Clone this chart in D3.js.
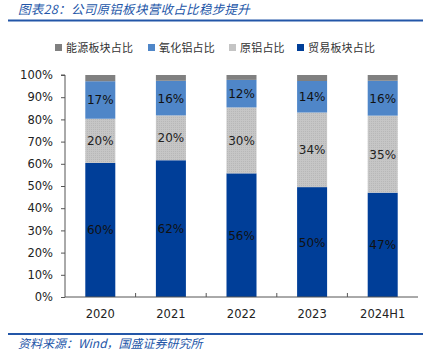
<!DOCTYPE html>
<html>
<head>
<meta charset="utf-8">
<script src="https://cdn.jsdelivr.net/npm/d3@7"></script>
<style>
  body { margin: 0; background: #fff; }
  svg { display: block; }
</style>
</head>
<body>
<div id="chart"></div>
<script>
// categories and shares (%)
const years = ["2020", "2021", "2022", "2023", "2024H1"];
const trade = [60.4, 61.6, 55.7, 49.5, 47.0];     // 贸易板块占比
const primaryAl = [19.9, 20.2, 29.7, 33.6, 34.7]; // 原铝占比
const alumina = [16.9, 15.6, 12.4, 14.2, 15.7];   // 氧化铝占比
const energy = [2.8, 2.6, 2.2, 2.7, 2.6];         // 能源板块占比
const yTicks = [0, 10, 20, 30, 40, 50, 60, 70, 80, 90, 100];

const W = 430, H = 353;
const margin = { top: 75, right: 12, bottom: 56, left: 65 };
const w = W - margin.left - margin.right;
const h = H - margin.top - margin.bottom;

const svg = d3.select("#chart").append("svg")
  .attr("width", W).attr("height", H)
  .style("font-family", "'DejaVu Sans', sans-serif");

// dotted texture for primary aluminium
const defs = svg.append("defs");
const pat = defs.append("pattern").attr("id", "dots")
  .attr("width", 2).attr("height", 2).attr("patternUnits", "userSpaceOnUse");
pat.append("rect").attr("width", 2).attr("height", 2).attr("fill", "#c6c6c6");
pat.append("rect").attr("width", 1).attr("height", 1).attr("fill", "#b8b8b8");

/* Title + rules */
const blue = "#2356a8";
svg.append("text").attr("x", 18).attr("y", 14)
  .style("font-family", "'Noto Sans CJK SC', sans-serif")
  .style("font-size", "12.5px").style("font-style", "italic").style("fill", blue)
  .style("letter-spacing", "0.3px")
  .text("图表28：公司原铝板块营收占比稳步提升");
svg.append("line").attr("x1", 8).attr("x2", 423).attr("y1", 20.5).attr("y2", 20.5)
  .attr("stroke", blue).attr("stroke-width", 2);
svg.append("line").attr("x1", 8).attr("x2", 423).attr("y1", 334).attr("y2", 334)
  .attr("stroke", blue).attr("stroke-width", 2);
svg.append("text").attr("x", 18).attr("y", 348)
  .style("font-family", "'Noto Sans CJK SC', sans-serif")
  .style("font-size", "12px").style("font-style", "italic").style("fill", blue)
  .text("资料来源：Wind，国盛证券研究所");

const g = svg.append("g").attr("transform", `translate(${margin.left},${margin.top})`);

const x = d3.scaleBand().domain(years).range([0, w]).paddingInner(0.575).paddingOuter(0.2875);
const y = d3.scaleLinear().domain([0, 100]).range([h, 0]);

const series = [
  { key: "trade", name: "贸易板块占比", vals: trade, color: "#003e98", text: "#111" },
  { key: "primary", name: "原铝占比", vals: primaryAl, color: "url(#dots)", sw: "#c4c4c4", text: "#222" },
  { key: "alumina", name: "氧化铝占比", vals: alumina, color: "#4f86c8", text: "#111" },
  { key: "energy", name: "能源板块占比", vals: energy, color: "#808080", text: null }
];

years.forEach((yr, i) => {
  let base = 0;
  series.forEach(s => {
    const v = s.vals[i];
    g.append("rect")
      .attr("x", x(yr)).attr("width", x.bandwidth())
      .attr("y", y(base + v)).attr("height", y(base) - y(base + v))
      .attr("fill", s.color);
    if (s.text) {
      g.append("text")
        .attr("x", x(yr) + x.bandwidth() / 2)
        .attr("y", y(base + v / 2) + 4.5)
        .attr("text-anchor", "middle")
        .style("font-size", "12px").style("fill", s.text)
        .text(Math.round(v) + "%");
    }
    base += v;
  });
});

/* Axes */
const axisCol = "#555";
const yAxis = g.append("g").call(d3.axisLeft(y).tickValues(yTicks).tickFormat(d => d + "%").tickSize(4));
yAxis.select(".domain").attr("stroke", axisCol).attr("d", `M-4,${y(100)}H0V${h}`);
yAxis.selectAll(".tick line").attr("stroke", axisCol);
yAxis.selectAll("text").attr("x", -12).style("font-size", "11.5px").style("fill", "#222")
  .style("font-family", "'DejaVu Sans', sans-serif");

const xAxis = g.append("g").attr("transform", `translate(0,${h})`)
  .call(d3.axisBottom(x).tickSize(0).tickPadding(13));
xAxis.select(".domain").attr("stroke", axisCol).attr("d", `M0,0H${w}`);
xAxis.selectAll("text").style("font-size", "11.5px").style("fill", "#222")
  .style("font-family", "'DejaVu Sans', sans-serif");
// tick marks between categories
const step = x.step();
g.append("g").selectAll("line").data(years.slice(0, -1)).enter().append("line")
  .attr("x1", d => x(d) + x.bandwidth() + (step - x.bandwidth()) / 2)
  .attr("x2", d => x(d) + x.bandwidth() + (step - x.bandwidth()) / 2)
  .attr("y1", h - 4).attr("y2", h)
  .attr("stroke", axisCol);

/* Legend */
const legendItems = [series[3], series[2], series[1], series[0]];
const legendX = [55, 148, 229, 297];
const legend = svg.append("g").attr("transform", "translate(0,48)");
legendItems.forEach((s, i) => {
  legend.append("rect").attr("x", legendX[i]).attr("y", -4).attr("width", 7).attr("height", 7)
    .attr("fill", s.sw || s.color);
  legend.append("text").attr("x", legendX[i] + 11).attr("y", 4)
    .style("font-family", "'Noto Sans CJK SC', sans-serif")
    .style("font-size", "11px").style("fill", "#333").style("letter-spacing", "0.2px")
    .text(s.name);
});
</script>
</body>
</html>
